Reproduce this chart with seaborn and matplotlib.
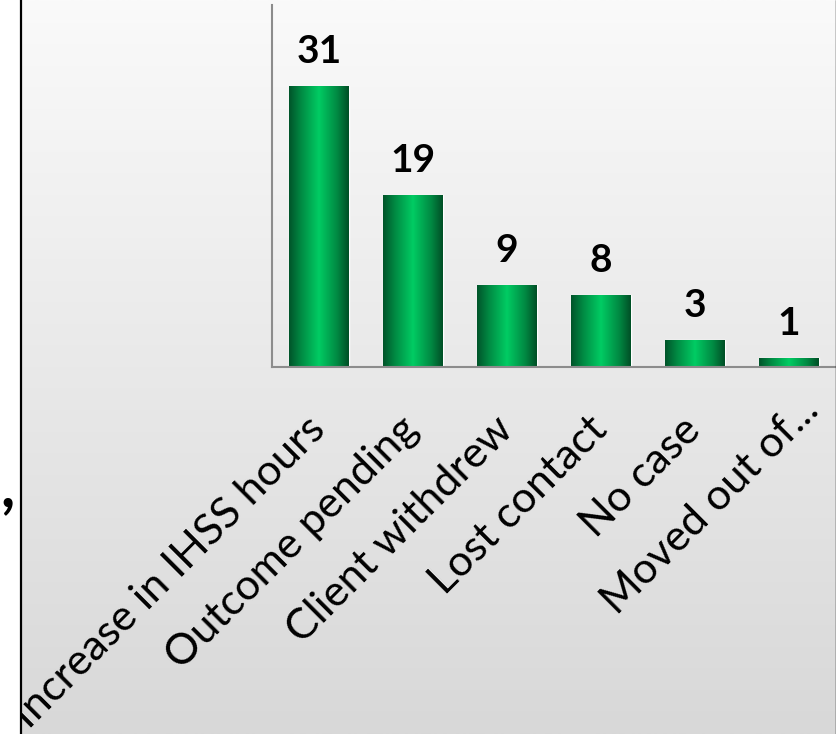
import numpy as np
import pandas as pd
import matplotlib
matplotlib.use("Agg")
import matplotlib.pyplot as plt
import seaborn as sns
from matplotlib.colors import LinearSegmentedColormap
from matplotlib.transforms import Bbox, TransformedBbox, ScaledTranslation
from matplotlib.lines import Line2D

categories = ["Increase in IHSS hours", "Outcome pending", "Client withdrew",
              "Lost contact", "No case", "Moved out of..."]
values = [31, 19, 9, 8, 3, 1]

sns.set_theme(style="white")
plt.rcParams["font.family"] = ["Lato", "DejaVu Sans"]

W, H = 836, 734
fig = plt.figure(figsize=(W / 100, H / 100), dpi=100)
fig.patch.set_facecolor("white")

# background gradient of the chart area
bg = fig.add_axes([20 / W, 0, 1 - 20 / W, 1], zorder=-10)
grad = np.linspace(0, 1, 256).reshape(-1, 1)
bgcmap = LinearSegmentedColormap.from_list("bg", ["#fafafa", "#d8d8d8"])
bg.imshow(grad, aspect="auto", cmap=bgcmap, extent=[0, 1, 0, 1], origin="upper")
bg.axis("off")

# frame lines
fig.add_artist(Line2D([20.5 / W] * 2, [0, 1], color="black", lw=1.6, transform=fig.transFigure))
fig.add_artist(Line2D([835.5 / W] * 2, [0, 1], color="black", lw=1.0, transform=fig.transFigure))

ax = fig.add_axes([272 / W, 367 / H, 564 / W, 362.4 / H])
ax.patch.set_alpha(0)

df = pd.DataFrame({"category": categories, "value": values})
sns.barplot(data=df, x="category", y="value", ax=ax, width=60 / 94,
            color="#00a050", saturation=1)

cmap = LinearSegmentedColormap.from_list(
    "bar", [(0, "#00542a"), (0.2, "#008a43"), (0.5, "#00cc63"),
            (0.8, "#008a43"), (1, "#004f26")])
hgrad = np.linspace(0, 1, 256).reshape(1, -1)
for p in list(ax.patches):
    x0, w, h = p.get_x(), p.get_width(), p.get_height()
    im = ax.imshow(hgrad, cmap=cmap, aspect="auto",
                   extent=[x0, x0 + w, 0, h], zorder=p.get_zorder() + 0.1)
    im.set_clip_path(p)
    ax.annotate(f"{h:g}", (x0 + w / 2, h), xytext=(0, 23 * 0.72),
                textcoords="offset points", ha="center", va="baseline",
                fontsize=28, fontweight="bold", color="black")

ax.set_xlim(-0.5, 5.5)
ax.set_ylim(0, 40)
ax.set_yticks([])
ax.set_xticks(range(len(categories)))
ax.set_xticklabels([])
ax.tick_params(axis="x", length=0)
ax.set_xlabel("")
ax.set_ylabel("")
for s in ["top", "right"]:
    ax.spines[s].set_visible(False)
for s in ["left", "bottom"]:
    ax.spines[s].set_color("#8c8c8c")
    ax.spines[s].set_linewidth(1.5)

clipbox = TransformedBbox(Bbox([[21.5 / W, 0], [1, 1]]), fig.transFigure)
for i, cat in enumerate(categories):
    dx, dy = 8, -65
    if cat.endswith("..."):
        dx, dy = 32, -45
    tr = ax.get_xaxis_transform() + ScaledTranslation(dx / 100, dy / 100, fig.dpi_scale_trans)
    t = ax.text(i, 0, cat, transform=tr, rotation=45, rotation_mode="anchor",
                ha="right", va="baseline", fontsize=31, color="black")
    t.set_clip_on(True)
    t.set_clip_box(clipbox)

fig.text(0 / W, 1 - 506 / H, ",", fontsize=44, fontweight="bold", va="baseline", color="black")

fig.savefig("out.png", dpi=100)
